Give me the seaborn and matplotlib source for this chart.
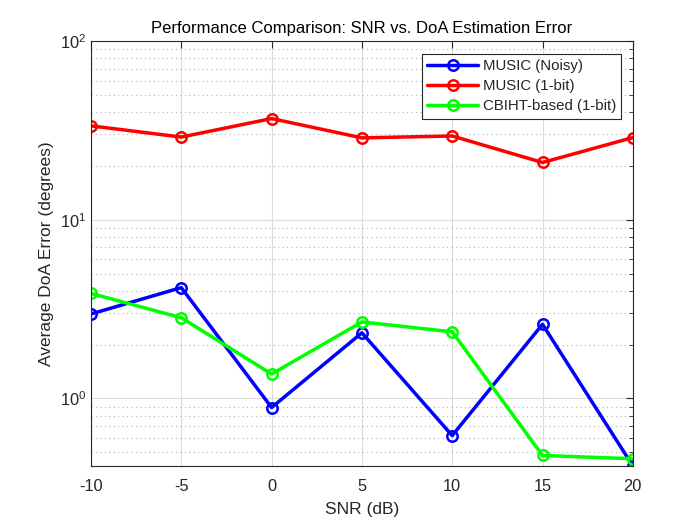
import numpy as np
import pandas as pd
import matplotlib
matplotlib.use("Agg")
import matplotlib.pyplot as plt
import seaborn as sns

snr = [-10, -5, 0, 5, 10, 15, 20]
music_noisy = [2.97, 4.17, 0.89, 2.33, 0.62, 2.60, 0.42]
music_1bit = [33.5, 29.0, 36.8, 28.7, 29.4, 20.9, 28.8]
cbiht_1bit = [3.87, 2.83, 1.37, 2.68, 2.36, 0.48, 0.46]
labels = ["MUSIC (Noisy)", "MUSIC (1-bit)", "CBIHT-based (1-bit)"]
colors = ["#0000ff", "#ff0000", "#00ff00"]

sns.set_style("white")
plt.rcParams["font.family"] = ["Liberation Sans", "DejaVu Sans"]
plt.rcParams["mathtext.fontset"] = "custom"
plt.rcParams["mathtext.rm"] = "Liberation Sans"

fig = plt.figure(figsize=(7, 5.25), dpi=100)
ax = fig.add_axes([0.13, 0.112, 0.774, 0.81])

# one series at a time so markers stay open
for vals, lab, col in zip([music_noisy, music_1bit, cbiht_1bit], labels, colors):
    df = pd.DataFrame({"SNR": snr, "err": vals})
    sns.lineplot(data=df, x="SNR", y="err", ax=ax, color=col, label=lab,
                 linewidth=2.5, marker="o", markersize=7.5,
                 markerfacecolor="none", markeredgecolor=col, markeredgewidth=1.8)

ax.set_yscale("log")
ax.set_xlim(-10, 20)
ax.set_ylim(0.418, 100)
ax.set_xticks(snr)
ax.set_xticklabels([str(s) for s in snr])
ax.set_yticks([1, 10, 100])
ax.set_yticklabels([r"$10^{0}$", r"$10^{1}$", r"$10^{2}$"])

ax.grid(True, which="major", color="#dcdcdc", linewidth=0.8, linestyle="-")
ax.grid(True, which="minor", axis="y", color="#b4b4b4", linewidth=0.8, linestyle=(0, (1, 3)))
ax.set_axisbelow(True)
ax.tick_params(which="both", direction="in", top=True, right=True,
               labelsize=11.8, colors="#262626", labelcolor="#262626")
ax.tick_params(which="major", length=5)
ax.tick_params(which="minor", length=3)
ax.tick_params(axis="x", which="major", pad=9)
ax.tick_params(axis="x", which="minor", bottom=False, top=False)
for s in ax.spines.values():
    s.set_color("#262626")
    s.set_linewidth(0.8)

ax.set_xlabel("SNR (dB)", fontsize=12.5, color="#262626", labelpad=6)
ax.set_ylabel("Average DoA Error (degrees)", fontsize=12.5, color="#262626")
ax.set_title("Performance Comparison: SNR vs. DoA Estimation Error", fontsize=12.0, color="black")

leg = ax.legend(loc="upper right", bbox_to_anchor=(0.984, 0.976), fontsize=10.8,
                frameon=True, fancybox=False, handlelength=3.4, borderpad=0.35,
                labelspacing=0.4, handletextpad=0.3, borderaxespad=0.2)
leg.get_frame().set_edgecolor("#262626")
leg.get_frame().set_linewidth(0.8)
leg.get_frame().set_alpha(1)

fig.savefig("out.png", dpi=100)
